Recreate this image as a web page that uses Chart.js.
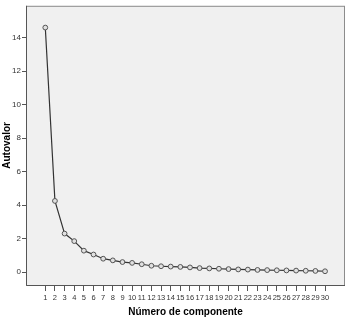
<!DOCTYPE html>
<html>
<head>
<meta charset="utf-8">
<script src="https://cdn.jsdelivr.net/npm/chart.js@4/dist/chart.umd.min.js"></script>
<style>
  html, body { margin:0; padding:0; background:#fff; }
  #wrap { width:350px; height:325px; position:relative; }
</style>
</head>
<body>
<div id="wrap"><canvas id="c"></canvas></div>
<script>
// Data
const componentes = [1,2,3,4,5,6,7,8,9,10,11,12,13,14,15,16,17,18,19,20,21,22,23,24,25,26,27,28,29,30];
const autovalores = [14.6,4.25,2.3,1.85,1.28,1.05,0.8,0.7,0.6,0.55,0.47,0.38,0.35,0.33,0.31,
                     0.28,0.24,0.22,0.2,0.18,0.16,0.15,0.13,0.12,0.11,0.1,0.09,0.08,0.07,0.05];
const yTicks = [0,2,4,6,8,10,12,14];
const xTitle = 'Número de componente';
const yTitle = 'Autovalor';

// plot background + frame + axis titles
const frame = {
  id:'frame',
  beforeDraw(chart){
    const {ctx, chartArea:a} = chart;
    ctx.save();
    ctx.fillStyle = '#f0f0f0';
    ctx.fillRect(a.left, a.top, a.right-a.left, a.bottom-a.top);
    ctx.restore();
  },
  afterDraw(chart){
    const {ctx, chartArea:a} = chart;
    ctx.save();
    ctx.strokeStyle = '#8c8c8c';
    ctx.lineWidth = 1;
    ctx.strokeRect(a.left+0.5, a.top+0.5, a.right-a.left-1, a.bottom-a.top);
    ctx.strokeStyle = '#555';
    ctx.beginPath();
    ctx.moveTo(a.left+0.5, a.top); ctx.lineTo(a.left+0.5, a.bottom+0.5);
    ctx.lineTo(a.right, a.bottom+0.5);
    ctx.stroke();
    ctx.fillStyle = '#000';
    ctx.font = 'bold 10px "Liberation Sans", Arial, sans-serif';
    ctx.textAlign = 'center';
    ctx.textBaseline = 'middle';
    ctx.fillText(xTitle, (a.left+a.right)/2, 312);
    ctx.translate(7, (a.top+a.bottom)/2);
    ctx.rotate(-Math.PI/2);
    ctx.fillText(yTitle, 0, 0);
    ctx.restore();
  }
};

new Chart(document.getElementById('c'), {
  type:'line',
  data:{ datasets:[{
    data: componentes.map((x,i)=>({x, y:autovalores[i]})),
    borderColor:'#333',
    borderWidth:1.2,
    pointRadius:2.4,
    pointBorderWidth:1,
    pointBorderColor:'#555',
    pointBackgroundColor:'#e0e0e0',
    tension:0
  }]},
  options:{
    responsive:true, maintainAspectRatio:false, animation:false,
    layout:{ padding:{ top:3, right:3, left:0, bottom:0 } },
    plugins:{ legend:{display:false}, tooltip:{enabled:false} },
    scales:{
      x:{
        type:'linear', min:-1, max:32.07,
        afterBuildTicks(s){ s.ticks = componentes.map(v=>({value:v})); },
        afterFit(s){ s.height = 40; },
        grid:{ display:true, drawOnChartArea:false, drawTicks:true, tickLength:6, color:'#555', lineWidth:1 },
        border:{ display:false },
        ticks:{ autoSkip:false, maxRotation:0, padding:2, color:'#333',
                font:{ size:7.5, family:'"Liberation Sans", Arial, sans-serif' } }
      },
      y:{
        min:-0.77, max:15.9,
        afterBuildTicks(s){ s.ticks = yTicks.map(v=>({value:v})); },
        afterFit(s){ s.width = 26; },
        grid:{ display:true, drawOnChartArea:false, drawTicks:true, tickLength:4, color:'#555', lineWidth:1 },
        border:{ display:false },
        ticks:{ padding:1, color:'#333',
                font:{ size:8, family:'"Liberation Sans", Arial, sans-serif' } }
      }
    }
  },
  plugins:[frame]
});
</script>
</body>
</html>
